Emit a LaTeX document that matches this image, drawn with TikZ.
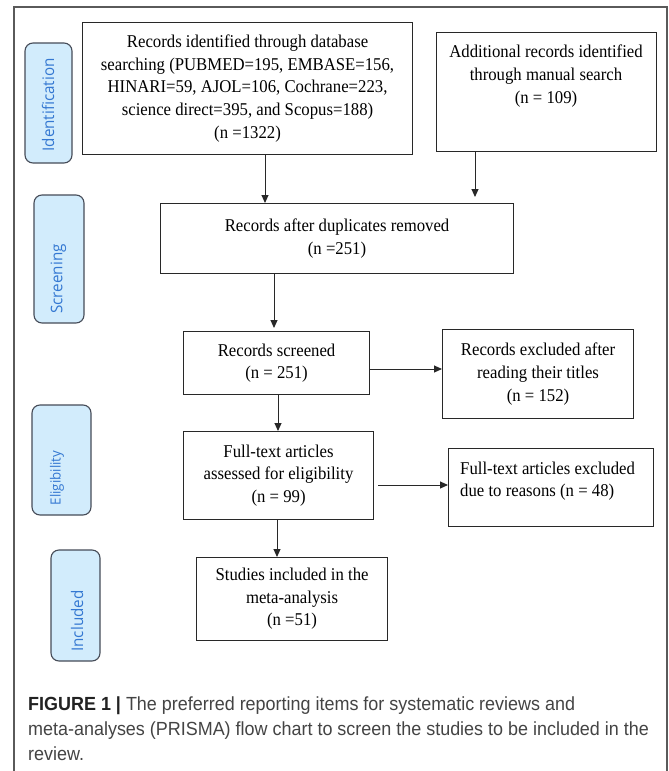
\documentclass[tikz,border=0pt]{standalone}
\usepackage{fontspec}
\setmainfont{Liberation Serif}[FakeStretch=0.93]
\newfontfamily\labfont{Open Sans}[FakeStretch=0.95]
\newfontfamily\capfont{Liberation Sans}[FakeStretch=0.945]
\usetikzlibrary{arrows.meta,calc}
\definecolor{labfill}{RGB}{210,236,252}
\definecolor{labdraw}{RGB}{70,76,88}
\definecolor{labtext}{RGB}{52,120,210}
\definecolor{boxline}{RGB}{40,40,40}
\definecolor{captext}{RGB}{68,68,68}
\definecolor{capbold}{RGB}{34,34,34}
\definecolor{framecol}{RGB}{90,90,90}
\tikzset{
  box/.style={draw=boxline, line width=1.1pt, inner sep=0pt, align=center,
    font=\fontsize{18}{22.6}\selectfont, anchor=north west},
  boxtxt/.style={inner sep=0pt, align=center, font=\fontsize{18}{22.6}\selectfont},
  labbox/.style={draw=labdraw, fill=labfill, line width=1.1pt, rounded corners=8pt, inner sep=0pt},
  labtxt/.style={text=labtext, rotate=90, inner sep=0pt, font=\labfont\fontsize{16}{16}\selectfont},
  arr/.style={draw=boxline, line width=1pt, -{Triangle[length=8pt,width=7pt]}},
  framel/.style={draw=framecol, line width=1.2pt}
}
\begin{document}
\begin{tikzpicture}[x=1pt,y=-1pt]
\useasboundingbox (0,0) rectangle (669,771);
\fill[white] (0,0) rectangle (669,771);
\draw[framel] (14,771) -- (14,7) -- (667,7) -- (667,771);

% stage labels
\node[labbox, minimum width=47pt, minimum height=120pt] (l1) at (48.5,103) {};
\node[labtxt] (t1) at (48,105) {Identification};
\node[labbox, minimum width=50pt, minimum height=128pt] (l2) at (59,259) {};
\node[labtxt] (t2) at (58.5,279) {Screening};
\node[labbox, minimum width=59pt, minimum height=110pt] (l3) at (61.5,460) {};
\node[labtxt, font=\labfont\fontsize{14}{14}\selectfont] (t3) at (57,478) {Eligibility};
\node[labbox, minimum width=49pt, minimum height=111pt] (l4) at (75.5,605.5) {};
\node[labtxt] (t4) at (77,621) {Included};

% boxes
\node[box, minimum width=330pt, minimum height=132pt] (b1) at (82,22)
  {Records identified through database\\searching (PUBMED=195, EMBASE=156,\\HINARI=59, AJOL=106, Cochrane=223,\\science direct=395, and Scopus=188)\\(n =1322)};
\node[box, minimum width=220pt, minimum height=119pt] (b2) at (436,32) {};
\node[boxtxt] (b2t) at (546,76) {Additional records identified\\through manual search\\(n = 109)};
\node[box, minimum width=353pt, minimum height=70pt] (b3) at (160,203)
  {Records after duplicates removed\\(n =251)};
\node[box, minimum width=186pt, minimum height=63pt] (b4) at (183,331)
  {Records screened\\(n = 251)};
\node[box, minimum width=191pt, minimum height=89pt] (b5) at (442,329)
  {Records excluded after\\reading their titles\\(n = 152)};
\node[box, minimum width=190pt, minimum height=88pt] (b6) at (183,431)
  {Full-text articles\\assessed for eligibility\\(n = 99)};
\node[box, minimum width=205pt, minimum height=78pt] (b7) at (448,448) {};
\node[boxtxt, align=left, anchor=west] (b7t) at (460,481)
  {Full-text articles excluded\\due to reasons (n = 48)};
\node[box, minimum width=191pt, minimum height=83pt] (b8) at (196,557)
  {Studies included in the\\meta-analysis\\(n =51)};

% connectors
\coordinate (x1) at (265,0);
\draw[arr] (b1.south -| x1) -- (b3.north -| x1);
\coordinate (x2) at (475,0);
\draw[arr, shorten >=6pt] (b2.south -| x2) -- (b3.north -| x2);
\coordinate (x3) at (274,0);
\draw[arr, shorten >=3pt] (b3.south -| x3) -- (b4.north -| x3);
\coordinate (y4) at (0,369);
\draw[arr] (b4.east |- y4) -- (b5.west |- y4);
\coordinate (x5) at (278,0);
\draw[arr] (b4.south -| x5) -- (b6.north -| x5);
\coordinate (y6) at (0,485);
\draw[arr, shorten <=4pt] (b6.east |- y6) -- (b7.west |- y6);
\coordinate (x7) at (277,0);
\draw[arr] (b6.south -| x7) -- (b8.north -| x7);

% caption
\node[anchor=base west, align=left, inner sep=0pt, text=captext,
  font=\capfont\fontsize{19}{25}\selectfont] (cap) at (28,760)
  {\textcolor{capbold}{\textbf{FIGURE 1 |}} The preferred reporting items for systematic reviews and\\meta-analyses (PRISMA) flow chart to screen the studies to be included in the\\review.};
\end{tikzpicture}
\end{document}
